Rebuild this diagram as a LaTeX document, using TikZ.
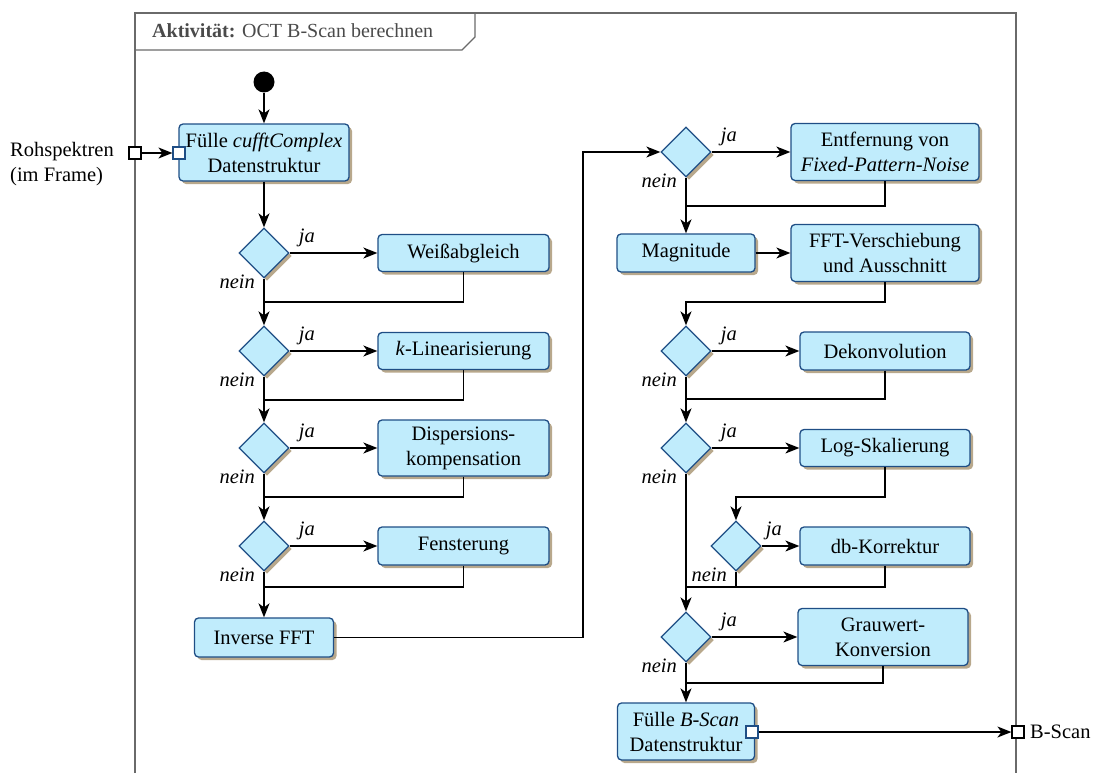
\documentclass[tikz,border=0pt]{standalone}
\usepackage{fontspec}
\setmainfont{Liberation Serif}
\usetikzlibrary{arrows.meta,shapes.geometric,shadows}
\definecolor{boxfill}{HTML}{C0ECFC}
\definecolor{boxdraw}{HTML}{1F4E85}
\definecolor{shadowc}{HTML}{B8A88C}
\definecolor{framec}{HTML}{6A6A6A}
\definecolor{titlec}{HTML}{4A4A4A}
\newcommand{\mainsize}{\fontsize{20.5}{25}\selectfont}
\tikzset{
  act/.style={draw=boxdraw, fill=boxfill, line width=1.3pt, rounded corners=4pt,
    align=center, inner sep=0pt,
    drop shadow={shadow xshift=3pt, shadow yshift=-3pt, fill=shadowc, opacity=1}},
  dec/.style={diamond, aspect=1, draw=boxdraw, fill=boxfill, line width=1.3pt,
    minimum width=50pt, minimum height=50pt, inner sep=0pt,
    drop shadow={shadow xshift=3pt, shadow yshift=-3pt, fill=shadowc, opacity=1}},
  pinbox/.style={draw=boxdraw, fill=white, line width=1.2pt, minimum size=12pt, inner sep=0pt},
  extpin/.style={draw=black, fill=white, line width=1.2pt, minimum size=12pt, inner sep=0pt},
  flow/.style={line width=1.4pt, -{Stealth[length=14pt, width=11pt, inset=4pt]}},
  back/.style={line width=1.4pt},
  lbl/.style={font=\mainsize\itshape, inner sep=0pt},
}
\begin{document}
\begin{tikzpicture}[x=1pt,y=-1pt, font=\mainsize]
\useasboundingbox (0,0) rectangle (1099,773);
% frame
\draw[framec, line width=1.2pt] (135,773) -- (135,13) -- (1016,13) -- (1016,773);
\draw[framec, line width=1.2pt] (135,50) -- (462,50) -- (475,37) -- (475,13);
\node[anchor=west, text=titlec, inner sep=0pt, font=\fontsize{20}{24}\selectfont] (title) at (152,31) {\textbf{Aktivität:} OCT B-Scan berechnen};

% start
\node[circle, fill=black, minimum size=21pt, inner sep=0pt] (start) at (264,82) {};

% left column
\node[act, minimum width=170pt, minimum height=57pt] (fill1) at (264,152.5) {Fülle \textit{cufftComplex}\\Datenstruktur};
\node[dec] (d1) at (264,253) {};
\node[act, minimum width=171pt, minimum height=37pt] (weiss) at (463.5,253) {Weißabgleich};
\node[dec] (d2) at (264,351) {};
\node[act, minimum width=171pt, minimum height=37pt] (klin) at (463.5,351) {\textit{k}-Linearisierung};
\node[dec] (d3) at (264,448) {};
\node[act, minimum width=171pt, minimum height=56pt] (disp) at (463.5,448) {Dispersions-\\kompensation};
\node[dec] (d4) at (264,546) {};
\node[act, minimum width=171pt, minimum height=38pt] (fenst) at (463.5,546) {Fensterung};
\node[act, minimum width=139pt, minimum height=39pt] (ifft) at (264,637.5) {Inverse FFT};

% right column
\node[dec] (d5) at (686,152) {};
\node[act, minimum width=188pt, minimum height=57pt] (entf) at (885,152) {Entfernung von\\\textit{Fixed-Pattern-Noise}};
\node[act, minimum width=138pt, minimum height=38pt] (mag) at (686,253) {Magnitude};
\node[act, minimum width=188pt, minimum height=57pt] (fftv) at (885,253) {FFT-Verschiebung\\und Ausschnitt};
\node[dec] (d6) at (686,351) {};
\node[act, minimum width=170pt, minimum height=38pt] (dekon) at (885,351) {Dekonvolution};
\node[dec] (d7) at (686,448) {};
\node[act, minimum width=170pt, minimum height=37pt] (logs) at (885,448) {Log-Skalierung};
\node[dec] (d8) at (736,546) {};
\node[act, minimum width=170pt, minimum height=38pt] (dbk) at (885,546) {db-Korrektur};
\node[dec] (d9) at (686,637) {};
\node[act, minimum width=170pt, minimum height=57pt] (grau) at (883,637) {Grauwert-\\Konversion};
\node[act, minimum width=137pt, minimum height=57pt] (fill2) at (686,731.5) {Fülle \textit{B-Scan}\\Datenstruktur};

% pins
\node[pinbox] (pin1) at (179,153) {};
\node[extpin] (ext1) at (135,153) {};
\node[pinbox] (pin2) at (752,732) {};
\node[extpin] (ext2) at (1018,732) {};
\node[anchor=west, align=left, inner sep=0pt] (rohtxt) at (10,164) {Rohspektren\\(im Frame)};
\node[anchor=west, inner sep=0pt] (bscantxt) at (1030,732) {B-Scan};

% junction coordinates
\coordinate (j1) at (264,302);
\coordinate (j2) at (264,400);
\coordinate (j3) at (264,497);
\coordinate (j4) at (264,587);
\coordinate (k0) at (583,637.5);
\coordinate (j5) at (686,206);
\coordinate (j6) at (885,302);
\coordinate (j7) at (686,399);
\coordinate (j8) at (885,497);
\coordinate (j9) at (686,587);
\coordinate (j9b) at (736,587);
\coordinate (j10) at (686,683);

% flows
\draw[flow] (start) -- (fill1.north);
\draw[flow] (ext1.east) -- (pin1.west);
\draw[flow] (fill1.south) -- (d1.north);
\draw[flow] (d1.east) -- (weiss.west);
\draw[flow] (d1.south) -- (d2.north);
\draw[back] (weiss.south) |- (j1);
\draw[flow] (d2.east) -- (klin.west);
\draw[flow] (d2.south) -- (d3.north);
\draw[back] (klin.south) |- (j2);
\draw[flow] (d3.east) -- (disp.west);
\draw[flow] (d3.south) -- (d4.north);
\draw[back] (disp.south) |- (j3);
\draw[flow] (d4.east) -- (fenst.west);
\draw[flow] (d4.south) -- (ifft.north);
\draw[back] (fenst.south) |- (j4);
\draw[flow] (ifft.east) -- (k0) |- (d5.west);
\draw[flow] (d5.east) -- (entf.west);
\draw[flow] (d5.south) -- (mag.north);
\draw[back] (entf.south) |- (j5);
\draw[flow] (mag.east) -- (fftv.west);
\draw[flow] (fftv.south) -- (j6) -| (d6.north);
\draw[flow] (d6.east) -- (dekon.west);
\draw[flow] (d6.south) -- (d7.north);
\draw[back] (dekon.south) |- (j7);
\draw[flow] (d7.east) -- (logs.west);
\draw[flow] (logs.south) -- (j8) -| (d8.north);
\draw[flow] (d8.east) -- (dbk.west);
\draw[back] (d8.south) -- (j9b);
\draw[back] (dbk.south) |- (j9);
\draw[flow] (d7.south) -- (d9.north);
\draw[flow] (d9.east) -- (grau.west);
\draw[flow] (d9.south) -- (fill2.north);
\draw[back] (grau.south) |- (j10);
\draw[flow] (pin2.east) -- (ext2.west);

% labels
\foreach \d in {d1,d2,d3,d4,d5,d6,d7,d9}{
  \node[lbl, anchor=south west] (ja-\d) at ([xshift=9pt,yshift=6pt]\d.east) {ja};
  \node[lbl, anchor=north east] (nein-\d) at ([xshift=-9pt,yshift=4pt]\d.south) {nein};
}
\node[lbl, anchor=south west] (ja-d8) at ([xshift=4pt,yshift=6pt]d8.east) {ja};
\node[lbl, anchor=north east] (nein-d8) at ([xshift=-9pt,yshift=4pt]d8.south) {nein};
\end{tikzpicture}
\end{document}
